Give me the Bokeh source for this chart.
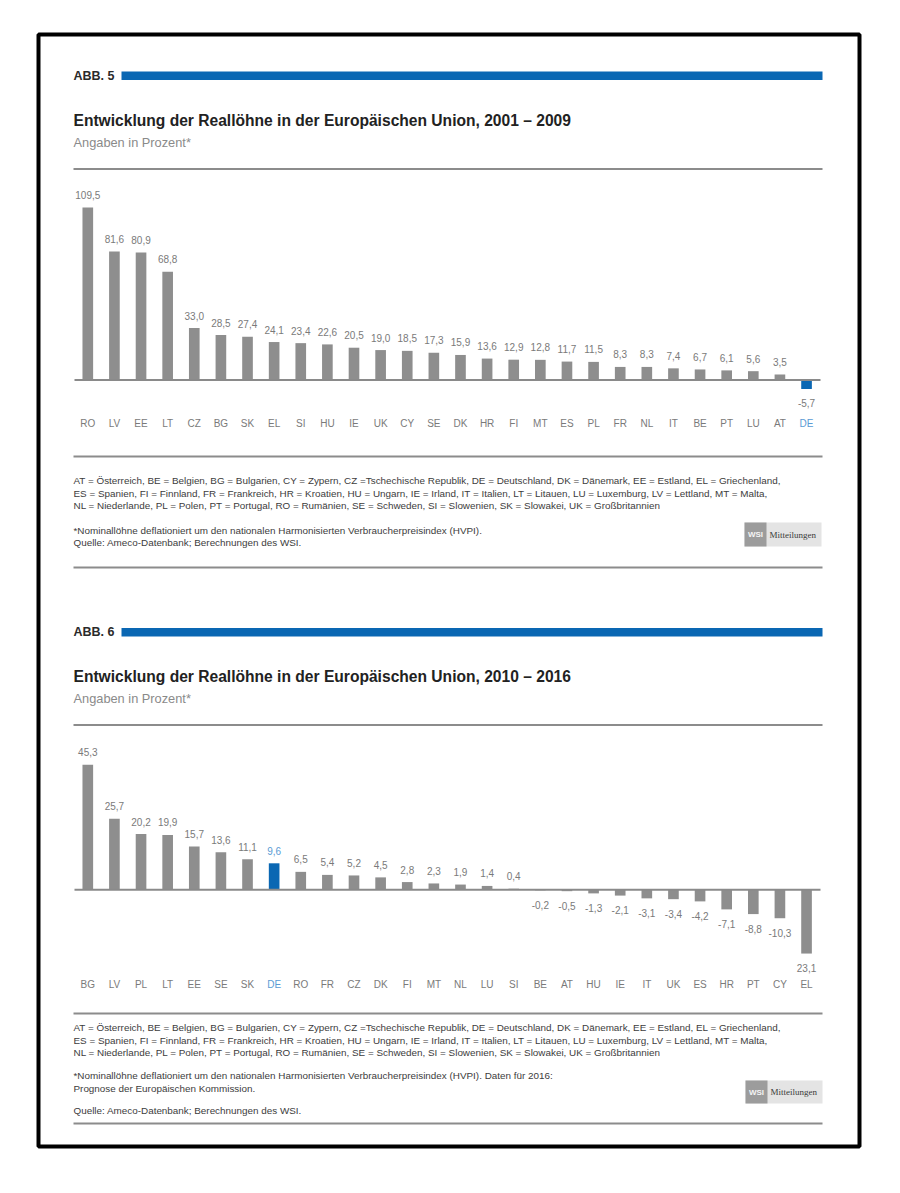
from bokeh.plotting import figure
from bokeh.models import Range1d, ColumnDataSource
from bokeh.core.properties import value
from bokeh.embed import file_html
from bokeh.resources import INLINE

# ---------------- data ----------------
cats1 = ["RO", "LV", "EE", "LT", "CZ", "BG", "SK", "EL", "SI", "HU", "IE", "UK", "CY", "SE",
         "DK", "HR", "FI", "MT", "ES", "PL", "FR", "NL", "IT", "BE", "PT", "LU", "AT", "DE"]
vals1 = [109.5, 81.6, 80.9, 68.8, 33.0, 28.5, 27.4, 24.1, 23.4, 22.6, 20.5, 19.0, 18.5, 17.3,
         15.9, 13.6, 12.9, 12.8, 11.7, 11.5, 8.3, 8.3, 7.4, 6.7, 6.1, 5.6, 3.5, -5.7]
labels1 = ["109,5", "81,6", "80,9", "68,8", "33,0", "28,5", "27,4", "24,1", "23,4", "22,6", "20,5",
           "19,0", "18,5", "17,3", "15,9", "13,6", "12,9", "12,8", "11,7", "11,5", "8,3", "8,3",
           "7,4", "6,7", "6,1", "5,6", "3,5", "-5,7"]

cats2 = ["BG", "LV", "PL", "LT", "EE", "SE", "SK", "DE", "RO", "FR", "CZ", "DK", "FI", "MT",
         "NL", "LU", "SI", "BE", "AT", "HU", "IE", "IT", "UK", "ES", "HR", "PT", "CY", "EL"]
vals2 = [45.3, 25.7, 20.2, 19.9, 15.7, 13.6, 11.1, 9.6, 6.5, 5.4, 5.2, 4.5, 2.8, 2.3,
         1.9, 1.4, 0.4, -0.2, -0.5, -1.3, -2.1, -3.1, -3.4, -4.2, -7.1, -8.8, -10.3, -23.1]
labels2 = ["45,3", "25,7", "20,2", "19,9", "15,7", "13,6", "11,1", "9,6", "6,5", "5,4", "5,2",
           "4,5", "2,8", "2,3", "1,9", "1,4", "0,4", "-0,2", "-0,5", "-1,3", "-2,1", "-3,1",
           "-3,4", "-4,2", "-7,1", "-8,8", "-10,3", "23,1"]

highlight = "DE"

title1 = "Entwicklung der Reallöhne in der Europäischen Union, 2001 – 2009"
title2 = "Entwicklung der Reallöhne in der Europäischen Union, 2010 – 2016"
subtitle = "Angaben in Prozent*"
legend_lines = [
    "AT = Österreich, BE = Belgien, BG = Bulgarien, CY = Zypern, CZ =Tschechische Republik, DE = Deutschland, DK = Dänemark, EE = Estland, EL = Griechenland,",
    "ES = Spanien, FI = Finnland, FR = Frankreich, HR = Kroatien, HU = Ungarn, IE = Irland, IT = Italien, LT = Litauen, LU = Luxemburg, LV = Lettland, MT = Malta,",
    "NL = Niederlande, PL = Polen, PT = Portugal, RO = Rumänien, SE = Schweden, SI = Slowenien, SK = Slowakei, UK = Großbritannien",
]
note1 = "*Nominallöhne deflationiert um den nationalen Harmonisierten Verbraucherpreisindex (HVPI)."
note2a = "*Nominallöhne deflationiert um den nationalen Harmonisierten Verbraucherpreisindex (HVPI). Daten für 2016:"
note2b = "Prognose der Europäischen Kommission."
source = "Quelle: Ameco-Datenbank; Berechnungen des WSI."

# ---------------- styling ----------------
FONT = "Liberation Sans"
GRAY_BAR = "#8e8e8e"
BLUE = "#0a67b3"
LIGHT_BLUE = "#5a9bd4"
RULE = "#8c8c8c"
NOTE_SIZE = 9.9

W, H = 884, 1177
L, T = 0, 0

p = figure(width=W, height=H, x_range=Range1d(L, L + W), y_range=Range1d(T + H, T),
           output_backend="svg", toolbar_location=None, x_axis_type=None, y_axis_type=None,
           min_border=0)
p.outline_line_color = None
p.background_fill_color = "white"
p.border_fill_color = "white"

# category scale (page x = X0 + DX * index)
X0, DX = 87.3, 26.62
p.extra_x_ranges = {"bx": Range1d((L - X0) / DX, (L + W - X0) / DX)}
# value scales
Z1, K1 = 379.5, 1.575
Z2, K2 = 889.3, 2.76
p.extra_y_ranges = {
    "c1": Range1d((Z1 - (T + H)) / K1, (Z1 - T) / K1),
    "c2": Range1d((Z2 - (T + H)) / K2, (Z2 - T) / K2),
}


def txt(x, y, s, size, color="#333333", bold=False, font=FONT, align="left"):
    p.text(x=[x], y=[y], text=[s], text_font=value(font), text_font_size=f"{size}px",
           text_color=color, text_font_style="bold" if bold else "normal",
           text_align=align, text_baseline="middle")


def rule(y, x0=73, x1=822, w=2):
    p.segment(x0=[x0], y0=[y], x1=[x1], y1=[y], line_color=RULE, line_width=w)


def logo(x0, y0, y1):
    p.quad(left=[x0], right=[x0 + 77], top=[y0], bottom=[y1], fill_color="#e4e4e4", line_color=None)
    p.quad(left=[x0], right=[x0 + 22], top=[y0], bottom=[y1], fill_color="#9c9c9c", line_color=None)
    ym = (y0 + y1) / 2
    txt(x0 + 11, ym, "WSI", 8, color="#f4f4f4", bold=True, align="center")
    txt(x0 + 25, ym, "Mitteilungen", 9, color="#3a3a3a", font="Liberation Serif")


def chart(cats, vals, labels, yname, cat_y, blue_value_label):
    n = len(cats)
    idx = list(range(n))
    src = ColumnDataSource(dict(
        i=idx, v=vals, lab=labels, cat=cats,
        fill=[BLUE if c == highlight else GRAY_BAR for c in cats],
        off=[-12.5 if v >= 0 else 14.5 for v in vals],
        lcol=[LIGHT_BLUE if (c == highlight and blue_value_label) else "#7a7a7a" for c in cats],
        ccol=[LIGHT_BLUE if c == highlight else "#7a7a7a" for c in cats],
        cy=[cat_y] * n,
    ))
    p.vbar(x="i", top="v", bottom=0, width=0.40, source=src, fill_color="fill",
           line_color=None, x_range_name="bx", y_range_name=yname)
    p.segment(x0=[74], y0=[0], x1=[820], y1=[0], line_color="#8a8a8a", line_width=2,
              y_range_name=yname)
    p.text(x="i", y="v", text="lab", source=src, y_offset="off", text_align="center",
           text_baseline="middle", text_font=value(FONT), text_font_size="10px",
           text_color="lcol", x_range_name="bx", y_range_name=yname)
    p.text(x="i", y="cy", text="cat", source=src, text_align="center",
           text_baseline="middle", text_font=value(FONT), text_font_size="10px",
           text_color="ccol", x_range_name="bx")


# outer frame
p.quad(left=[38], right=[859], top=[34], bottom=[1146], fill_color=None,
       line_color="black", line_width=4)

# ---------- panel 1 ----------
txt(73, 75.5, "ABB. 5", 12.5, color="#2a2a2a", bold=True)
p.quad(left=[121], right=[822], top=[71], bottom=[79.5], fill_color=BLUE, line_color=None)
txt(73, 120, title1, 15.6, color="#222222", bold=True)
txt(73, 142, subtitle, 12.8, color="#8a8a8a")
rule(168.5)
chart(cats1, vals1, labels1, "c1", 423, False)
rule(456)
for k, line in enumerate(legend_lines):
    txt(73, 480 + 12.5 * k, line, NOTE_SIZE, color="#3c3c3c")
txt(73, 530, note1, NOTE_SIZE, color="#3c3c3c")
txt(73, 542, source, NOTE_SIZE, color="#3c3c3c")
logo(744, 522, 546)
rule(567)

# ---------- panel 2 ----------
txt(73, 631.5, "ABB. 6", 12.5, color="#2a2a2a", bold=True)
p.quad(left=[121], right=[822], top=[627.5], bottom=[636], fill_color=BLUE, line_color=None)
txt(73, 676, title2, 15.6, color="#222222", bold=True)
txt(73, 698, subtitle, 12.8, color="#8a8a8a")
rule(724.5)
chart(cats2, vals2, labels2, "c2", 984, True)
rule(1013)
for k, line in enumerate(legend_lines):
    txt(73, 1027 + 12.5 * k, line, NOTE_SIZE, color="#3c3c3c")
txt(73, 1075, note2a, NOTE_SIZE, color="#3c3c3c")
txt(73, 1088, note2b, NOTE_SIZE, color="#3c3c3c")
txt(73, 1110, source, NOTE_SIZE, color="#3c3c3c")
logo(745, 1080, 1103)
rule(1123)

open("out.html", "w").write(file_html(p, INLINE))
